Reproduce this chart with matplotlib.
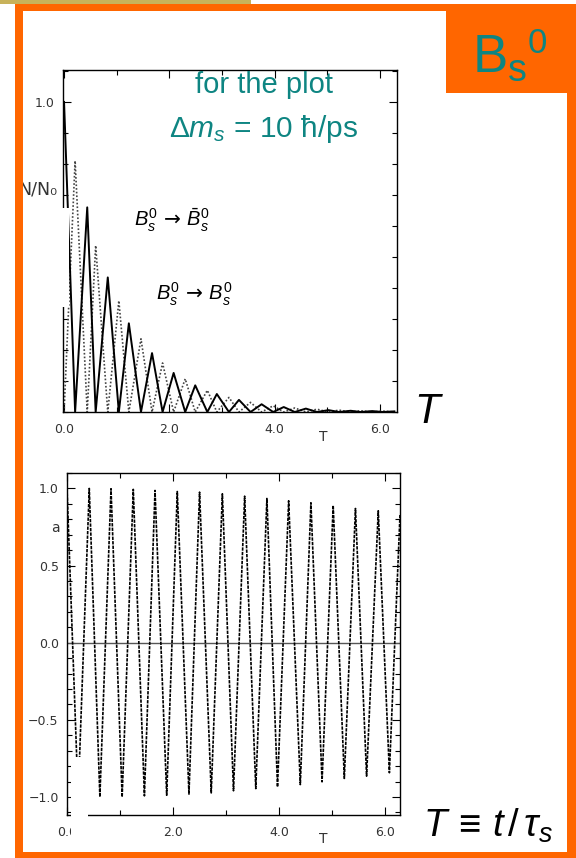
import matplotlib
matplotlib.use("Agg")
import matplotlib.pyplot as plt
from matplotlib.patches import Rectangle
from matplotlib.ticker import MultipleLocator, FixedLocator, FixedFormatter, FuncFormatter

plt.rcParams['font.family'] = ['DejaVu Sans']
plt.rcParams['mathtext.fontset'] = 'custom'
plt.rcParams['mathtext.rm'] = 'Liberation Sans'
plt.rcParams['mathtext.it'] = 'Liberation Sans:italic'
plt.rcParams['mathtext.bf'] = 'Liberation Sans:bold'

# top panel: N/N0 vs T, peaks of the unmixed (solid) and mixed (dotted) curves
unmixed_peak_t = [0.0, 0.44, 0.83, 1.23, 1.67, 2.08, 2.49, 2.90, 3.32, 3.75,
                  4.17, 4.59, 5.02, 5.44, 5.85, 6.27]
unmixed_peak_v = [1.0, 0.66, 0.434, 0.286, 0.19, 0.126, 0.086, 0.058, 0.039,
                  0.025, 0.016, 0.011, 0.006, 0.004, 0.003, 0.002]
mixed_peak_t = [0.21, 0.60, 1.04, 1.46, 1.87, 2.30, 2.72, 3.13, 3.54, 3.97,
                4.38, 4.80, 5.22, 5.63, 6.05]
mixed_peak_v = [0.81, 0.537, 0.359, 0.236, 0.158, 0.107, 0.07, 0.047, 0.031,
                0.02, 0.013, 0.009, 0.006, 0.004, 0.003]

# bottom panel: asymmetry a vs T, maxima and minima
asym_peak_t = [0.0, 0.42, 0.83, 1.25, 1.66, 2.08, 2.50, 2.93, 3.35, 3.77,
               4.18, 4.60, 5.02, 5.44, 5.87, 6.28]
asym_peak_v = [1.0, 1.0, 0.998, 0.994, 0.987, 0.98, 0.976, 0.965, 0.95,
               0.935, 0.92, 0.907, 0.89, 0.87, 0.855, 0.83]
asym_trough_t = [0.21, 0.62, 1.04, 1.46, 1.88, 2.30, 2.72, 3.14, 3.56, 3.97,
                 4.40, 4.81, 5.23, 5.65, 6.08]
asym_trough_v = [-1.0, -1.0, -1.0, -0.993, -0.989, -0.982, -0.974, -0.96,
                 -0.946, -0.935, -0.92, -0.902, -0.88, -0.865, -0.843]

x_ticks = [0.0, 2.0, 4.0, 6.0]
x_tick_labels = ["0.0", "2.0", "4.0", "6.0"]

W, H = 576, 858
ORANGE = "#ff6600"
TEAL = "#0e8582"


def fx(x):
    return x / W


def fy(y):
    return 1 - y / H


def rect(fig, x0, y0, x1, y1, color, z):
    fig.add_artist(Rectangle((fx(x0), fy(y1)), (x1 - x0) / W, (y1 - y0) / H,
                             transform=fig.transFigure, facecolor=color,
                             edgecolor="none", zorder=z))


def zigzag(peak_t, peak_v, zero_t, zero_v=None):
    """Join maxima and minima into one polyline, ordered by T."""
    if zero_v is None:
        zero_v = [0.0] * len(zero_t)
    pts = sorted(zip(list(peak_t) + list(zero_t), list(peak_v) + list(zero_v)))
    return [p[0] for p in pts], [p[1] for p in pts]


def style_axes(ax):
    ax.tick_params(which="both", direction="in", top=True, right=True,
                   labelsize=9, labelcolor="#333333", width=0.8)
    ax.tick_params(which="major", length=6, pad=8)
    ax.tick_params(which="minor", length=3.5)
    ax.tick_params(axis="y", which="major", pad=6)
    for s in ax.spines.values():
        s.set_linewidth(1.0)
    ax.xaxis.set_major_locator(FixedLocator(x_ticks))
    ax.xaxis.set_major_formatter(FixedFormatter(x_tick_labels))
    ax.xaxis.set_minor_locator(MultipleLocator(1.0))
    ax.yaxis.set_minor_locator(MultipleLocator(0.1))


fig = plt.figure(figsize=(W / 100, H / 100), dpi=100)

# ---- top panel ----
ax1 = fig.add_axes([fx(63), fy(412), (397 - 63) / W, (412 - 70) / H])
t, v = zigzag(mixed_peak_t, mixed_peak_v, unmixed_peak_t)
ax1.plot(t, v, color="#444444", lw=1.2, linestyle=(0, (1, 1.2)))
t, v = zigzag(unmixed_peak_t, unmixed_peak_v, mixed_peak_t)
ax1.plot(t, v, color="black", lw=1.4)
ax1.set_xlim(-0.02, 6.32)
ax1.set_ylim(0, 1.103)
style_axes(ax1)
ax1.yaxis.set_major_locator(FixedLocator([1.0]))
ax1.yaxis.set_major_formatter(FixedFormatter(["1.0"]))

# ---- bottom panel ----
ax2 = fig.add_axes([fx(67), fy(815), (400 - 67) / W, (815 - 473) / H])
ax2.axhline(0.0, color="#555555", lw=1.0)
t, v = zigzag(asym_peak_t, asym_peak_v, asym_trough_t, asym_trough_v)
ax2.plot(t, v, color="black", lw=1.2, linestyle=(0, (2, 0.7)))
ax2.set_xlim(0, 6.28)
ax2.set_ylim(-1.117, 1.10)
style_axes(ax2)
ax2.yaxis.set_major_locator(MultipleLocator(0.5))
ax2.yaxis.set_major_formatter(
    FuncFormatter(lambda y, pos: f"{y:.1f}".replace("-", "\u2212")))

# white cover patches as in the slide
rect(fig, 55, 208, 69, 307, "white", 1)
rect(fig, 70.5, 757, 88, 846, "white", 1)

# axis labels
fig.text(fx(57), fy(190), "N/N\u2080", ha="right", va="center", fontsize=12.5,
         color="#333333", zorder=3)
fig.text(fx(55), fy(528), "a", ha="center", va="center", fontsize=10,
         color="#333333")
fig.text(fx(323), fy(437), "T", ha="center", va="center", fontsize=10,
         color="#333333")
fig.text(fx(323), fy(839), "T", ha="center", va="center", fontsize=10,
         color="#333333")

# curve annotations
fig.text(fx(134), fy(220), r"$B_s^0$ → $\bar{B}_s^0$", ha="left",
         va="center", fontsize=14.5)
fig.text(fx(156), fy(294), r"$B_s^0$ → $B_s^0$", ha="left",
         va="center", fontsize=14.5)

# teal note
fig.text(fx(264), fy(93), "for the plot", ha="center", va="baseline",
         fontsize=21, color=TEAL, family="Liberation Sans")
fig.text(fx(264), fy(137), r"$\mathit{\Delta m_s}$ = 10 ħ/ps", ha="center",
         va="baseline", fontsize=21.5, color=TEAL, family="Liberation Sans")

# big side labels
fig.text(fx(427), fy(412), "T", ha="center", va="center", fontsize=30,
         style="italic", family="Liberation Sans")
fig.text(fx(488), fy(826), r"$T\,\equiv\,t\,/\,\tau_s$", ha="center",
         va="center", fontsize=27.5)

# slide frame
rect(fig, 0, 0, 251, 4, "#c8b25a", 5)
rect(fig, 15, 4, W, 11, ORANGE, 5)
rect(fig, 15, 4, 23, H, ORANGE, 5)
rect(fig, 15, 852, W, H, ORANGE, 5)
rect(fig, 567, 4, W, H, ORANGE, 5)
rect(fig, 446, 4, W, 93, ORANGE, 5)

# B_s^0 tag
fig.text(fx(473), fy(72), "B", ha="left", va="baseline", fontsize=38,
         color=TEAL, family="Liberation Sans", zorder=6)
fig.text(fx(508), fy(81), "s", ha="left", va="baseline", fontsize=27,
         color=TEAL, family="Liberation Sans", zorder=6)
fig.text(fx(528), fy(53), "0", ha="left", va="baseline", fontsize=25,
         color=TEAL, family="Liberation Sans", zorder=6)

fig.savefig("out.png", dpi=100)
